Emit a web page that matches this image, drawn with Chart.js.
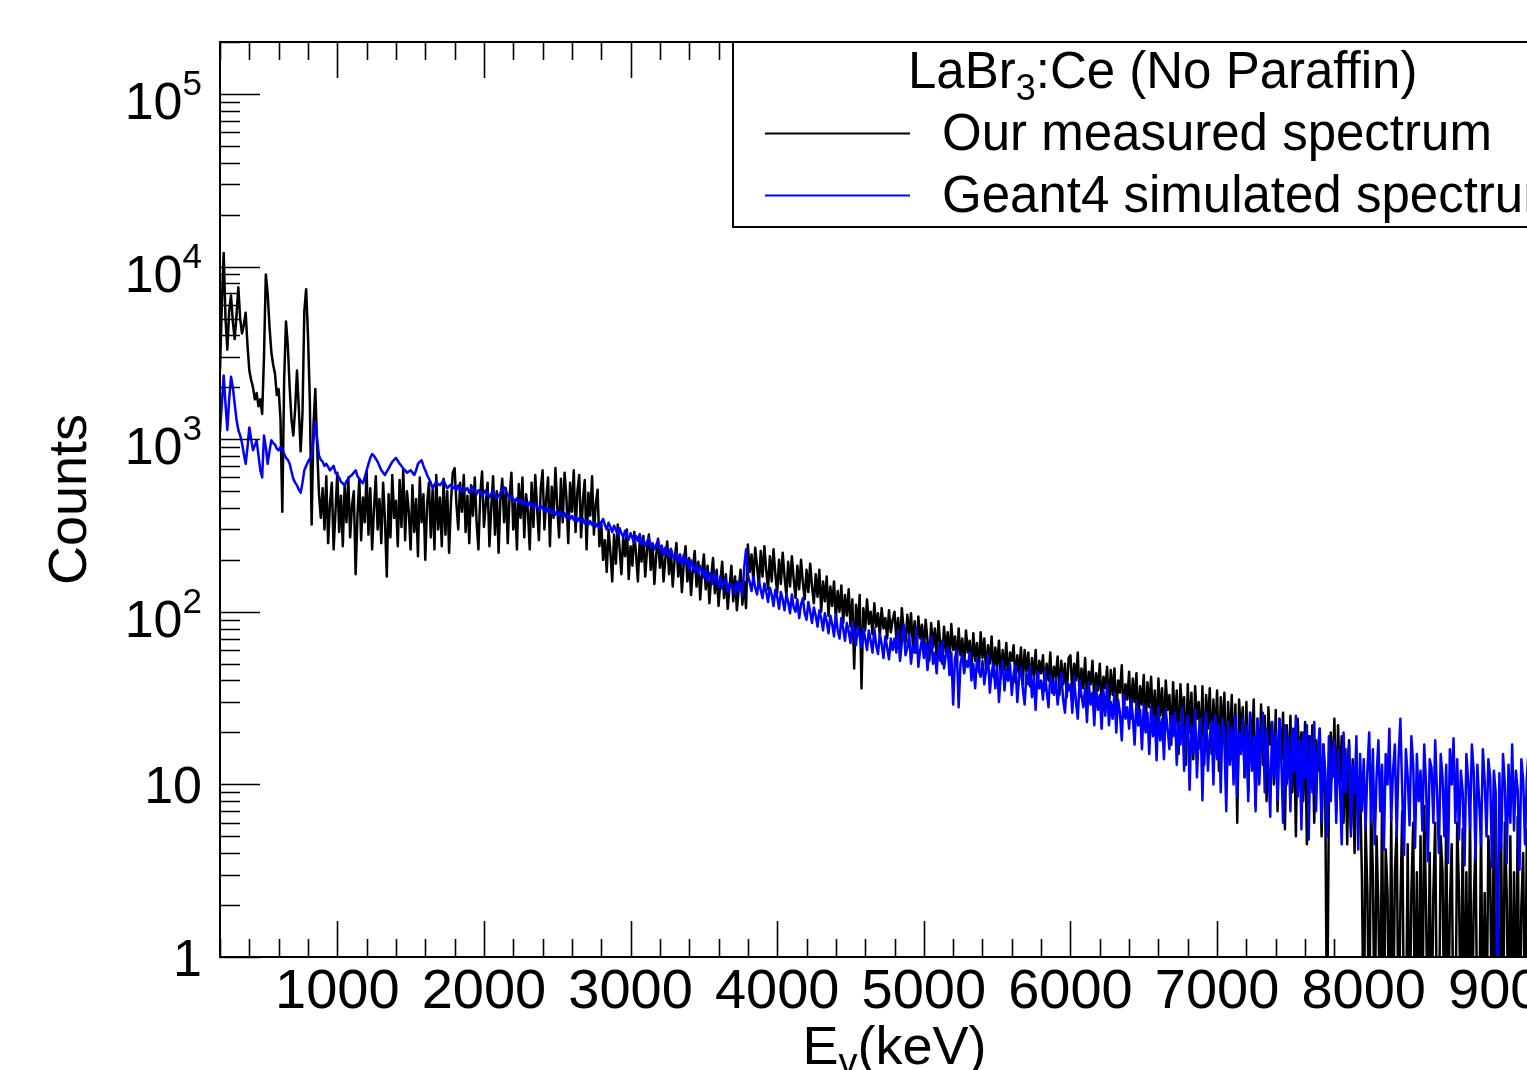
<!DOCTYPE html>
<html>
<head>
<meta charset="utf-8">
<title>LaBr3:Ce spectrum</title>
<script src="https://cdn.jsdelivr.net/npm/chart.js@4.4.1/dist/chart.umd.min.js"></script>
<style>
  html, body { margin: 0; padding: 0; background: #ffffff; overflow: hidden; }
  #wrap { position: absolute; left: 0; top: 0; width: 1600px; height: 1070px; }
</style>
</head>
<body>
<div id="wrap"><canvas id="spectrum" width="1600" height="1070"></canvas></div>
<script>
// Energy calibration of the histogram channels (keV): 8 channels per 100 keV row
const E0 = 200;
const BIN_KEV = 12.5;

// Measured LaBr3:Ce spectrum, counts per channel
const measured = [
  // 200-900 keV
  2500, 6000, 12000, 5000, 3300, 5500, 6800, 4800,
  3800, 5200, 7600, 5000, 4100, 4600, 5400, 3500,
  2500, 2200, 2000, 1700, 1850, 1550, 1700, 1400,
  3000, 9000, 7000, 4500, 3200, 2700, 2400, 1800,
  1950, 1300, 380, 2200, 4800, 3500, 2000, 1300,
  1050, 1500, 2500, 1500, 850, 1400, 5500, 7400,
  4000, 1700, 320, 1200, 1950, 900, 480, 350,
  // 900-1800 keV
  520, 300, 610, 250, 420, 560, 230, 380,
  640, 290, 470, 240, 540, 330, 600, 270,
  410, 500, 165, 360, 590, 260, 460, 330,
  650, 280, 520, 230, 390, 610, 300, 450,
  250, 560, 340, 160, 480, 270, 620, 350,
  440, 240, 580, 310, 670, 260, 500, 380,
  230, 540, 290, 450, 210, 600, 330, 480,
  200, 420, 560, 270, 510, 230, 620, 300,
  460, 240, 590, 280, 500, 220, 430, 640,
  // 1800-2800 keV
  680, 420, 300, 560, 380, 620, 290, 470,
  250, 540, 360, 600, 330, 230, 480, 650,
  310, 420, 560, 240, 400, 610, 280, 500,
  220, 450, 590, 330, 520, 250, 470, 640,
  300, 430, 230, 550, 350, 600, 270, 480,
  380, 230, 560, 310, 620, 400, 260, 520,
  660, 300, 450, 600, 240, 530, 350, 680,
  410, 270, 590, 330, 640, 460, 250, 560,
  380, 660, 290, 500, 620, 270, 440, 580,
  230, 490, 360, 610, 280, 420, 510, 240,
  // 2800-3800 keV
  330, 200, 260, 170, 300, 220, 150, 280,
  190, 320, 235, 165, 270, 210, 300, 155,
  240, 185, 290, 215, 150, 260, 195, 275,
  160, 230, 280, 175, 245, 145, 215, 265,
  180, 240, 150, 205, 255, 165, 230, 140,
  200, 250, 160, 215, 130, 190, 240, 150,
  205, 125, 180, 225, 140, 195, 118, 170,
  215, 135, 185, 112, 160, 205, 128, 175,
  108, 150, 195, 120, 165, 104, 140, 185,
  115, 160, 102, 135, 175, 110, 150, 105,
  // 3800-4800 keV
  245, 170, 215, 150, 235, 185, 140, 225,
  160, 240, 175, 135, 210, 150, 230, 165,
  128, 200, 145, 220, 160, 125, 195, 140,
  210, 155, 120, 185, 135, 200, 148, 118,
  175, 130, 190, 140, 112, 165, 122, 175,
  100, 150, 115, 160, 95, 140, 108, 150,
  90, 132, 100, 142, 86, 125, 95, 135,
  82, 118, 47, 110, 80, 125, 36, 105,
  78, 118, 85, 100, 74, 112, 82, 98,
  72, 105, 80, 92, 70, 102, 76, 90,
  // 4800-6000 keV
  100, 70, 92, 62, 105, 78, 66, 96,
  72, 98, 64, 88, 58, 94, 70, 84,
  60, 90, 68, 52, 86, 62, 80, 55,
  88, 64, 50, 82, 58, 76, 53, 85,
  60, 72, 50, 80, 56, 70, 48, 78,
  58, 68, 47, 75, 52, 66, 45, 76,
  54, 70, 44, 64, 50, 72, 42, 62,
  48, 68, 41, 60, 46, 66, 40, 58,
  52, 64, 39, 56, 44, 62, 38, 60,
  45, 58, 37, 54, 42, 60, 36, 52,
  44, 56, 35, 50, 40, 58, 34, 48,
  42, 55, 33, 52, 38, 50, 32, 54,
  // 6000-7200 keV
  56, 34, 50, 40, 58, 32, 47, 36,
  54, 31, 45, 38, 52, 30, 44, 35,
  50, 29, 42, 36, 48, 27, 46, 33,
  47, 26, 40, 34, 49, 25, 38, 31,
  45, 24, 41, 30, 44, 22, 37, 29,
  43, 21, 39, 28, 42, 23, 35, 20,
  41, 25, 36, 19, 40, 27, 33, 17,
  39, 22, 35, 15, 38, 26, 32, 13,
  38, 20, 34, 14, 37, 24, 30, 16,
  37, 13, 33, 21, 36, 15, 31, 18,
  35, 12, 32, 20, 34, 10, 30, 16,
  33, 14, 29, 6, 31, 19, 28, 11,
  // 7200-8000 keV
  30, 9, 26, 16, 31, 7.5, 24, 12,
  29, 13, 25, 8, 28, 17, 23, 10,
  27, 7, 24, 14, 26, 5.5, 22, 11,
  25, 9, 21, 5, 24, 13, 20, 8,
  23, 4.5, 19, 10, 22, 6, 18, 12,
  21, 5, 17, 9, 0, 8, 20, 11,
  24, 7, 22, 10, 19, 6, 16, 4.5,
  18, 5.5, 14, 4, 12, 7, 10, 3,
  // 8000-9200 keV
  0, 6, 2.35, 0, 7.5, 3.1, 0, 5,
  1.95, 0, 8, 0, 4.2, 2.35, 0, 6.5,
  0, 3.1, 5.5, 0, 1.95, 7, 0, 0,
  4.5, 0, 2.35, 6, 0, 3.1, 0, 5,
  0, 7.5, 1.95, 0, 4, 0, 2.35, 6,
  0, 0, 5, 3.1, 0, 7, 0, 1.95,
  4.5, 0, 0, 6, 2.35, 0, 5.5, 0,
  3.1, 0, 7, 0, 1.95, 4.8, 0, 0,
  6, 0, 2.35, 0, 5, 3.1, 0, 7.5,
  0, 1.95, 0, 4.5, 0, 6, 2.35, 0,
  5, 0, 3.1, 0, 6.5, 0, 1.95, 4,
  0, 5.5, 0, 2.35, 0, 7, 3.1, 0
];

// Geant4 simulated spectrum, counts per channel
const simulated = [
  // 200-900 keV
  1100, 1600, 2340, 1600, 1130, 1700, 2300, 2000,
  1600, 1300, 1130, 1050, 950, 820, 720, 900,
  1170, 1000, 862, 920, 985, 800, 660, 600,
  1050, 900, 720, 850, 985, 950, 930, 880,
  862, 900, 880, 820, 780, 760, 720, 650,
  590, 560, 540, 510, 490, 560, 660, 700,
  740, 770, 800, 1000, 1260, 1000, 800, 760,
  // 900-1800 keV
  740, 700, 720, 690, 660, 680, 700, 640,
  620, 600, 565, 555, 540, 570, 590, 610,
  620, 640, 660, 610, 590, 570, 555, 600,
  660, 720, 780, 820, 800, 770, 740, 700,
  660, 640, 620, 650, 675, 710, 740, 760,
  780, 750, 720, 700, 675, 660, 640, 650,
  660, 640, 620, 660, 720, 740, 754, 700,
  660, 620, 590, 560, 520, 545, 565, 550,
  540, 560, 578, 545, 520, 535, 545, 520,
  // 1800-2800 keV
  530, 505, 540, 515, 495, 525, 506, 520,
  490, 512, 530, 500, 480, 506, 495, 470,
  490, 505, 480, 460, 485, 500, 475, 455,
  470, 490, 510, 526, 500, 475, 455, 470,
  450, 435, 455, 430, 445, 420, 440, 425,
  410, 432, 415, 400, 425, 405, 390, 412,
  398, 385, 405, 380, 395, 372, 388, 365,
  382, 360, 378, 355, 372, 350, 366, 345,
  360, 340, 355, 335, 350, 330, 345, 325,
  340, 320, 335, 318, 330, 312, 325, 305,
  // 2800-3800 keV
  330, 345, 318, 300, 328, 310, 290, 315,
  298, 280, 305, 285, 270, 295, 275, 262,
  285, 268, 250, 275, 258, 282, 248, 262,
  240, 255, 268, 236, 250, 230, 245, 258,
  228, 242, 214, 236, 220, 208, 232, 212,
  202, 222, 196, 210, 188, 214, 190, 200,
  176, 198, 182, 170, 190, 165, 184, 172,
  158, 176, 150, 168, 162, 145, 170, 152,
  140, 160, 136, 148, 155, 130, 146, 138,
  142, 126, 150, 132, 146, 124, 180, 230,
  // 3800-4800 keV
  165, 148, 132, 160, 138, 126, 152, 134,
  120, 146, 130, 114, 138, 126, 108, 134,
  122, 104, 130, 118, 102, 126, 114, 98,
  126, 106, 100, 118, 92, 110, 120, 98,
  90, 114, 100, 86, 106, 95, 82, 102,
  92, 78, 98, 88, 75, 95, 85, 72,
  96, 78, 70, 92, 80, 68, 86, 77,
  66, 88, 74, 64, 82, 72, 62, 80,
  70, 60, 78, 68, 58, 80, 64, 57,
  74, 65, 54, 72, 62, 53, 70, 60,
  // 4800-6000 keV
  70, 58, 78, 52, 66, 84, 56, 62,
  74, 50, 64, 58, 80, 48, 60, 70,
  54, 66, 46, 62, 72, 50, 58, 44,
  64, 52, 68, 47, 56, 62, 43, 58,
  29, 54, 60, 28, 50, 57, 44, 52,
  48, 58, 40, 50, 36, 54, 46, 42,
  52, 38, 47, 56, 34, 45, 50, 36,
  48, 30, 44, 52, 35, 46, 40, 50,
  33, 44, 49, 30, 42, 47, 36, 29,
  44, 38, 48, 32, 42, 27, 45, 36,
  40, 31, 46, 35, 28, 43, 38, 33,
  41, 29, 37, 44, 31, 26, 39, 35,
  // 6000-7200 keV
  38, 26, 42, 30, 24, 40, 33, 28,
  36, 23, 39, 29, 34, 22, 37, 27,
  33, 21, 35, 25, 38, 22, 30, 24,
  34, 20, 31, 26, 18, 33, 24, 28,
  21, 31, 25, 17, 30, 22, 27, 16,
  29, 20, 26, 15, 28, 19, 25, 13.8,
  28, 18, 24, 14, 27, 21, 16, 25,
  19, 26, 13, 23, 17, 28, 12, 22,
  25, 9.3, 22, 15, 27, 11, 20, 24,
  8.1, 21, 26, 12, 19, 23, 10, 25,
  14, 22, 9, 24, 18, 7, 23, 13,
  21, 10, 25, 8.5, 20, 15, 24, 11,
  // 7200-8000 keV
  22, 8, 26, 12, 19, 7, 24, 10,
  18, 26, 9, 21, 13, 6.5, 23, 11,
  20, 8, 24, 14, 6, 22, 10, 19,
  7, 21, 12, 25, 8.5, 18, 5.5, 20,
  11, 22, 4.8, 19, 9, 23, 7, 16,
  21, 6, 17, 12, 5, 19, 8, 15,
  18, 6, 16, 10, 4.5, 20, 9, 14,
  17, 5, 13, 9, 19, 4.2, 15, 7,
  // 8000-9200 keV
  14, 5.5, 12, 20, 6, 16, 4.5, 11,
  18, 7, 13, 4.2, 15, 10, 21, 6.2,
  12, 17, 5, 14, 24, 9, 3.9, 16,
  11, 5.8, 19, 13, 4.3, 15, 8, 12,
  5.4, 17, 10, 3.6, 14, 12.5, 6, 18,
  9, 4, 15, 11, 5, 13, 3.5, 16,
  10, 18.5, 6, 14, 4.8, 12, 9, 3.4,
  15, 10.6, 5.6, 17, 12, 3.7, 13, 8,
  4.5, 16, 10.4, 5, 14, 11, 3.3, 12,
  9, 0, 11.6, 4.2, 15, 10, 3.5, 13,
  6, 17, 5.4, 12, 9.3, 3.2, 14, 10.6,
  4.5, 11, 16, 5, 10, 3.6, 13, 9
];

// Axis ranges and tick labels
const X_MIN = 200, X_MAX = 9400;
const Y_MIN = 1, Y_MAX = 2e5;
const xMajorTicks = [1000, 2000, 3000, 4000, 5000, 6000, 7000, 8000, 9000];
const xMajorLabels = ['1000', '2000', '3000', '4000', '5000', '6000', '7000', '8000', '9000'];
const yDecades = [1, 10, 100, 1000, 10000, 100000];
const yDecadeLabels = [['1', ''], ['10', ''], ['10', '2'], ['10', '3'], ['10', '4'], ['10', '5']];
const X_MINOR_STEP = 200;

const seriesNames = ['Our measured spectrum', 'Geant4 simulated spectrum'];
const seriesColors = ['#000000', '#0000ff'];
const legendHeader = ['LaBr', '3', ':Ce (No Paraffin)'];
const yTitle = 'Counts';
const xTitle = ['E', '\u03b3', '(keV)'];

const FONT = '"Liberation Sans", Arial, Helvetica, sans-serif';
// empty channels are placed under the axis floor so the line drops to the bottom
const EMPTY_LEVEL = 0.3;

function toPoints(counts) {
  return counts.map((c, i) => ({ x: E0 + i * BIN_KEV, y: c > 0 ? c : EMPTY_LEVEL }));
}

// ROOT-style frame, inward ticks, labels, titles and legend box
const rootFrame = {
  id: 'rootFrame',
  afterDatasetsDraw(chart) {
    const { ctx, chartArea: a, scales } = chart;
    const xs = scales.x, ys = scales.y;
    ctx.save();
    ctx.strokeStyle = '#000';
    ctx.fillStyle = '#000';

    // ticks
    ctx.lineWidth = 1.6;
    ctx.beginPath();
    for (let v = X_MIN; v <= X_MAX; v += X_MINOR_STEP) {
      const px = Math.round(xs.getPixelForValue(v)) + 0.5;
      const len = v % 1000 === 0 ? 36 : 18;
      ctx.moveTo(px, a.bottom); ctx.lineTo(px, a.bottom - len);
      ctx.moveTo(px, a.top); ctx.lineTo(px, a.top + len);
    }
    for (let d = 0; d < yDecades.length; d++) {
      for (let m = 1; m <= 9; m++) {
        const v = yDecades[d] * m;
        if (v > Y_MAX) break;
        const py = Math.round(ys.getPixelForValue(v)) + 0.5;
        const len = m === 1 ? 40 : 20;
        ctx.moveTo(a.left, py); ctx.lineTo(a.left + len, py);
        ctx.moveTo(a.right, py); ctx.lineTo(a.right - len, py);
      }
    }
    ctx.stroke();

    // frame
    ctx.lineWidth = 2;
    ctx.strokeRect(a.left, a.top, a.right - a.left, a.bottom - a.top);

    // x tick labels
    ctx.font = '56px ' + FONT;
    ctx.textAlign = 'center';
    ctx.textBaseline = 'alphabetic';
    xMajorTicks.forEach((v, i) => {
      ctx.fillText(xMajorLabels[i], xs.getPixelForValue(v), a.bottom + 51);
    });

    // y tick labels (10^n with raised exponent)
    const right = a.left - 18;
    yDecades.forEach((v, i) => {
      const py = ys.getPixelForValue(v);
      const [base, exp] = yDecadeLabels[i];
      ctx.textAlign = 'left';
      if (exp) {
        ctx.font = '35px ' + FONT;
        const we = ctx.measureText(exp).width;
        ctx.font = '52px ' + FONT;
        const wb = ctx.measureText(base).width;
        ctx.fillText(base, right - we - wb, py + 25);
        ctx.font = '35px ' + FONT;
        ctx.fillText(exp, right - we, py + 1);
      } else {
        ctx.font = '52px ' + FONT;
        const wb = ctx.measureText(base).width;
        ctx.fillText(base, right - wb, py + 19);
      }
    });

    // y title
    ctx.save();
    ctx.translate(86, (a.top + a.bottom) / 2);
    ctx.rotate(-Math.PI / 2);
    ctx.font = '54px ' + FONT;
    ctx.textAlign = 'center';
    ctx.fillText(yTitle, 0, 0);
    ctx.restore();

    // x title E_gamma(keV)
    ctx.textAlign = 'left';
    ctx.font = '54px ' + FONT;
    const w0 = ctx.measureText(xTitle[0]).width;
    const w2 = ctx.measureText(xTitle[2]).width;
    ctx.font = '38px ' + FONT;
    const w1 = ctx.measureText(xTitle[1]).width;
    const total = w0 + w1 + w2;
    let tx = (a.left + a.right) / 2 - total / 2;
    const tb = 1064;
    ctx.font = '54px ' + FONT;
    ctx.fillText(xTitle[0], tx, tb); tx += w0;
    ctx.font = '38px ' + FONT;
    ctx.fillText(xTitle[1], tx, tb + 11); tx += w1;
    ctx.font = '54px ' + FONT;
    ctx.fillText(xTitle[2], tx, tb);

    // legend box
    const lx = 733, ly = a.top, lh = 185;
    ctx.fillStyle = '#fff';
    ctx.fillRect(lx, ly, a.right - lx, lh);
    ctx.fillStyle = '#000';
    ctx.lineWidth = 2;
    ctx.strokeRect(lx, ly, a.right - lx, lh);

    // legend header with subscript
    let hx = 908;
    ctx.font = '51px ' + FONT;
    ctx.fillText(legendHeader[0], hx, 88); hx += ctx.measureText(legendHeader[0]).width;
    ctx.font = '36px ' + FONT;
    ctx.fillText(legendHeader[1], hx, 100); hx += ctx.measureText(legendHeader[1]).width;
    ctx.font = '51px ' + FONT;
    ctx.fillText(legendHeader[2], hx, 88);

    // legend entries
    const rows = [133, 195];
    seriesNames.forEach((name, i) => {
      ctx.strokeStyle = seriesColors[i];
      ctx.lineWidth = 2;
      ctx.beginPath();
      ctx.moveTo(765, rows[i] + 0.5); ctx.lineTo(910, rows[i] + 0.5);
      ctx.stroke();
      ctx.fillStyle = '#000';
      ctx.font = '51px ' + FONT;
      ctx.fillText(name, 942, rows[i] + 17);
    });
    ctx.restore();
  }
};

new Chart(document.getElementById('spectrum'), {
  type: 'line',
  data: {
    datasets: [
      {
        label: seriesNames[0],
        data: toPoints(measured),
        borderColor: seriesColors[0],
        borderWidth: 2.5,
        borderJoinStyle: 'round',
        tension: 0,
        pointRadius: 0,
        order: 1
      },
      {
        label: seriesNames[1],
        data: toPoints(simulated),
        borderColor: seriesColors[1],
        borderWidth: 2.5,
        borderJoinStyle: 'round',
        tension: 0,
        pointRadius: 0,
        order: 0
      }
    ]
  },
  options: {
    responsive: false,
    animation: false,
    devicePixelRatio: 1,
    layout: { padding: { left: 220, top: 42, right: 31, bottom: 113 } },
    scales: {
      x: { type: 'linear', min: X_MIN, max: X_MAX, display: false },
      y: { type: 'logarithmic', min: Y_MIN, max: Y_MAX, display: false }
    },
    plugins: {
      legend: { display: false },
      tooltip: { enabled: false }
    },
    events: []
  },
  plugins: [rootFrame]
});
</script>
</body>
</html>
